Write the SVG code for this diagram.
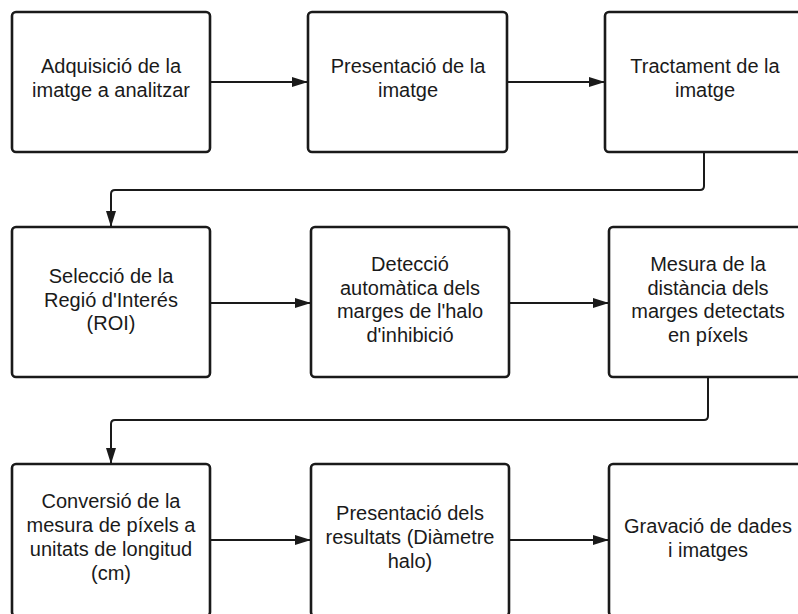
<svg xmlns="http://www.w3.org/2000/svg" width="798" height="614" viewBox="0 0 798 614">
  <defs>
    <marker id="arrow" viewBox="0 0 16 10" refX="16" refY="5" markerWidth="16" markerHeight="10" markerUnits="userSpaceOnUse" orient="auto">
      <path d="M0,0 L16,5 L0,10 Z" fill="#1a1a1a"/>
    </marker>
    <style>
      .box { fill: #ffffff; stroke: #1a1a1a; stroke-width: 2.6; }
      .lbl { font-family: "Liberation Sans", Arial, sans-serif; font-size: 20px; fill: #1a1a1a; text-anchor: middle; }
      .conn { fill: none; stroke: #1a1a1a; stroke-width: 2; marker-end: url(#arrow); }
    </style>
  </defs>
  <rect width="798" height="614" fill="#ffffff"/>

  <!-- connectors -->
  <g id="connectors">
    <path class="conn" d="M210,82 H308"/>
    <path class="conn" d="M507,82 H605"/>
    <path class="conn" d="M704,152 V186 Q704,190 700,190 H115 Q111,190 111,194 V227"/>
    <path class="conn" d="M210,303 H311"/>
    <path class="conn" d="M509,303 H609"/>
    <path class="conn" d="M708,377 V416 Q708,420 704,420 H115 Q111,420 111,424 V464"/>
    <path class="conn" d="M210,540 H311"/>
    <path class="conn" d="M509,540 H609"/>
  </g>

  <!-- row 1 -->
  <g id="adquisicio">
    <rect class="box" x="12" y="12" width="198" height="140" rx="4"/>
    <text class="lbl" x="111" y="73">Adquisició de la</text>
    <text class="lbl" x="111" y="97">imatge a analitzar</text>
  </g>
  <g id="presentacio-imatge">
    <rect class="box" x="308" y="12" width="199" height="140" rx="4"/>
    <text class="lbl" x="408" y="73">Presentació de la</text>
    <text class="lbl" x="408" y="97">imatge</text>
  </g>
  <g id="tractament">
    <rect class="box" x="605" y="12" width="200" height="140" rx="4"/>
    <text class="lbl" x="705" y="73">Tractament de la</text>
    <text class="lbl" x="705" y="97">imatge</text>
  </g>

  <!-- row 2 -->
  <g id="seleccio-roi">
    <rect class="box" x="12" y="227" width="198" height="150" rx="4"/>
    <text class="lbl" x="111" y="283">Selecció de la</text>
    <text class="lbl" x="111" y="307">Regió d'Interés</text>
    <text class="lbl" x="111" y="330">(ROI)</text>
  </g>
  <g id="deteccio">
    <rect class="box" x="311" y="227" width="198" height="150" rx="4"/>
    <text class="lbl" x="410" y="271">Detecció</text>
    <text class="lbl" x="410" y="295">automàtica dels</text>
    <text class="lbl" x="410" y="318">marges de l'halo</text>
    <text class="lbl" x="410" y="342">d'inhibició</text>
  </g>
  <g id="mesura">
    <rect class="box" x="609" y="227" width="200" height="150" rx="4"/>
    <text class="lbl" x="708" y="271">Mesura de la</text>
    <text class="lbl" x="708" y="295">distància dels</text>
    <text class="lbl" x="708" y="318">marges detectats</text>
    <text class="lbl" x="708" y="342">en píxels</text>
  </g>

  <!-- row 3 -->
  <g id="conversio">
    <rect class="box" x="12" y="464" width="198" height="152" rx="4"/>
    <text class="lbl" x="111" y="508">Conversió de la</text>
    <text class="lbl" x="111" y="532">mesura de píxels a</text>
    <text class="lbl" x="111" y="556">unitats de longitud</text>
    <text class="lbl" x="111" y="580">(cm)</text>
  </g>
  <g id="presentacio-resultats">
    <rect class="box" x="311" y="464" width="198" height="152" rx="4"/>
    <text class="lbl" x="410" y="520">Presentació dels</text>
    <text class="lbl" x="410" y="544">resultats (Diàmetre</text>
    <text class="lbl" x="410" y="568">halo)</text>
  </g>
  <g id="gravacio">
    <rect class="box" x="609" y="464" width="200" height="152" rx="4"/>
    <text class="lbl" x="708" y="533">Gravació de dades</text>
    <text class="lbl" x="708" y="557">i imatges</text>
  </g>
</svg>
